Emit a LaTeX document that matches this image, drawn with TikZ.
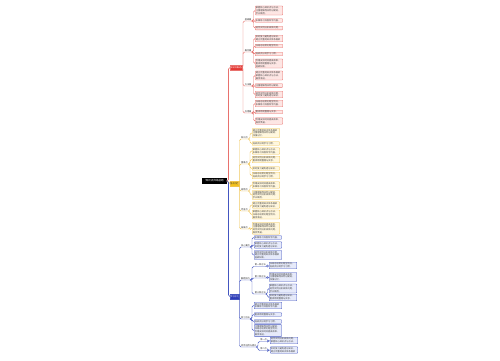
\documentclass[tikz,border=0pt]{standalone}
\usepackage{fontspec}
\newfontfamily\cjk{Noto Sans CJK SC}
\definecolor{rline}{HTML}{E8726E}
\definecolor{rfill}{HTML}{FDE6E4}
\definecolor{rmain}{HTML}{E53935}
\definecolor{yline}{HTML}{F0C24B}
\definecolor{yfill}{HTML}{FFF7DE}
\definecolor{ymain}{HTML}{F5C31C}
\definecolor{bline}{HTML}{4456C0}
\definecolor{bfill}{HTML}{E6EAFA}
\definecolor{bmain}{HTML}{2E3DB8}
\newcommand\zA{掌握核心知识点与方法，}
\newcommand\zB{注重理解而非死记硬背，}
\newcommand\zC{多做练习巩固所学内容。}
\newcommand\zD{结合实例分析具体问题，}
\newcommand\zE{及时复习避免遗忘知识。}
\newcommand\zF{建立完整的知识体系框架}
\newcommand\zG{归纳总结常见题型特点，}
\newcommand\zH{培养良好的学习习惯。}
\newcommand\zI{合理安排时间提高效率，}
\newcommand\zJ{重视错题整理与反思。}
\newcommand\mmlink[4]{\draw[conn=#1] (#2) -| (#3 |- #4.west) -- (#4.west);}
\newcommand\mmlab[4]{\draw[conn=#1] (#2) -| (#3 |- #4.south west) -- (#4.south east);}
\tikzset{
  leaf/.style={draw=#1line, fill=#1fill, line width=0.3pt, rounded corners=0.6pt,
    text width=26pt, align=left, inner sep=0.8pt,
    font=\cjk\fontsize{2.2}{2.7}\selectfont, text=black!75, anchor=west},
  lbl/.style={inner sep=0.6pt, font=\cjk\fontsize{2.2}{2.6}\selectfont, text=black!80, anchor=south west},
  conn/.style={draw=#1line, line width=0.45pt, rounded corners=1.5pt},
  mainbox/.style={fill=#1main, draw=#1line, line width=0.3pt, inner sep=0.5pt, minimum height=5pt,
    font=\cjk\fontsize{2.1}{2.5}\selectfont, anchor=west},
}
\begin{document}
\begin{tikzpicture}[x=1pt,y=-1pt]
\fill[white] (0,0) rectangle (500,360);
\useasboundingbox (0,0) rectangle (500,360);
% root and main branches
\node[fill=black, text=white, font=\cjk\fontsize{2.6}{3}\selectfont, inner sep=0.8pt,
  minimum width=25pt, minimum height=6pt, anchor=west] (root) at (202,181) {知识点归纳总结};
\node[mainbox=r, text=white] (R) at (230,67.5) {知识点概述};
\node[mainbox=y, text=black!80] (Y) at (229.5,183.5) {重点内容};
\node[mainbox=b, text=white] (B) at (229.5,296.5) {学习方法};
\coordinate (tr) at (228.5,0);
\draw[conn=r, line width=0.6pt] (root.east) -| (tr |- R.west) -- (R.west);
\draw[conn=y, line width=0.6pt] (root.east) -| (tr |- Y.west) -- (Y.west);
\draw[conn=b, line width=0.6pt] (root.east) -| (tr |- B.west) -- (B.west);
% ===== red branch =====
\coordinate (rv) at (243,0);
\coordinate (rl) at (253.5,0);
\node[lbl] (R1) at (244,21) {基础篇};
\node[lbl] (R2) at (244,52) {概念篇};
\node[lbl] (R3) at (244,86) {方法篇};
\node[lbl] (R4) at (244,113) {应用篇};
\foreach \l in {R1,R2,R3,R4} {\mmlab{r}{R.east}{rv}{\l}}
\node[leaf=r] (R1a) at (255,10.5) {\zA\\\zB\\学以致用。};
\node[leaf=r] (R1b) at (255,20.5) {\zC};
\node[leaf=r] (R1c) at (255,28) {\zD};
\node[leaf=r] (R2a) at (255,38.5) {\zE\\\zF};
\node[leaf=r] (R2b) at (255,46) {\zG};
\node[leaf=r] (R2c) at (255,54) {\zH};
\node[leaf=r] (R2d) at (255,63.5) {\zI\\\zJ\\温故知新。};
\node[leaf=r] (R3a) at (255,75.5) {\zF\\\zA\\循序渐进。};
\node[leaf=r] (R3b) at (255,85.5) {\zB};
\node[leaf=r] (R3c) at (255,94.5) {\zD\\\zE};
\node[leaf=r] (R4a) at (255,103.5) {\zG\\\zC};
\node[leaf=r] (R4b) at (255,112) {\zJ};
\node[leaf=r] (R4c) at (255,121) {\zI\\融会贯通。};
\foreach \l in {R1a,R1b,R1c} {\mmlink{r}{R1.south east}{rl}{\l}}
\foreach \l in {R2a,R2b,R2c,R2d} {\mmlink{r}{R2.south east}{rl}{\l}}
\foreach \l in {R3a,R3b,R3c} {\mmlink{r}{R3.south east}{rl}{\l}}
\foreach \l in {R4a,R4b,R4c} {\mmlink{r}{R4.south east}{rl}{\l}}
% ===== yellow branch =====
\coordinate (yv) at (239.5,0);
\coordinate (yl) at (250,0);
\node[lbl] (Y1) at (240.3,139) {知识点};
\node[lbl] (Y2) at (240.3,164) {重难点};
\node[lbl] (Y3) at (240.3,191) {易错点};
\node[lbl] (Y4) at (240.3,211) {考查点};
\node[lbl] (Y5) at (240.3,229) {拓展点};
\foreach \l in {Y1,Y2,Y3,Y4,Y5} {\mmlab{y}{Y.east}{yv}{\l}}
\node[leaf=y] (Y1a) at (252,133) {\zF\\\zB\\加强记忆。};
\node[leaf=y] (Y1b) at (252,143.5) {\zH};
\node[leaf=y] (Y2a) at (252,151) {\zA\\\zC};
\node[leaf=y] (Y2b) at (252,159.5) {\zD\\\zJ};
\node[leaf=y] (Y2c) at (252,168.5) {\zE};
\node[leaf=y] (Y2d) at (252,175.5) {\zG\\\zH};
\node[leaf=y] (Y3a) at (252,185) {\zI\\\zC};
\node[leaf=y] (Y3b) at (252,195) {\zB\\\zD\\学以致用。};
\node[leaf=y] (Y4a) at (252,205) {\zF\\\zE};
\node[leaf=y] (Y4b) at (252,214.5) {\zA\\\zG\\循序渐进。};
\node[leaf=y] (Y5a) at (252,228.3) {\zI\\\zB\\\zD\\融会贯通。};
\foreach \l in {Y1a,Y1b} {\mmlink{y}{Y1.south east}{yl}{\l}}
\foreach \l in {Y2a,Y2b,Y2c,Y2d} {\mmlink{y}{Y2.south east}{yl}{\l}}
\foreach \l in {Y3a,Y3b} {\mmlink{y}{Y3.south east}{yl}{\l}}
\foreach \l in {Y4a,Y4b} {\mmlink{y}{Y4.south east}{yl}{\l}}
\mmlink{y}{Y5.south east}{yl}{Y5a}
% ===== blue branch =====
\coordinate (bv) at (239.5,0);
\coordinate (bl) at (252,0);
\coordinate (sv) at (267.5,0);
\coordinate (tv) at (258,0);
\node[lbl] (B1) at (240.3,247) {核心要点};
\node[lbl] (B2) at (240.3,280) {解题技巧};
\node[lbl] (B3) at (240.3,319) {复习方法};
\node[lbl] (B4) at (240.3,347) {综合运用与提升};
\foreach \l in {B1,B2,B3,B4} {\mmlab{b}{B.east}{bv}{\l}}
\node[leaf=b] (B1a) at (254,237.5) {\zC};
\node[leaf=b] (B1b) at (254,245) {\zA\\\zE};
\node[leaf=b] (B1c) at (254,255) {\zD\\\zF\\温故知新。};
\foreach \l in {B1a,B1b,B1c} {\mmlink{b}{B1.south east}{bl}{\l}}
\node[lbl] (S1) at (254,266.5) {第一种方法};
\node[lbl] (S2) at (254,278) {第二种方法};
\node[lbl] (S3) at (254,294) {第三种方法};
\foreach \l in {S1,S2,S3} {\mmlab{b}{B2.south east}{bl}{\l}}
\node[leaf=b] (S1a) at (269,265.5) {\zG\\\zH};
\node[leaf=b] (S2a) at (269,277) {\zI\\\zB\\加强记忆。};
\node[leaf=b] (S3a) at (269,288.5) {\zA\\\zD\\学以致用。};
\node[leaf=b] (S3b) at (269,297.5) {\zE\\\zJ};
\mmlink{b}{S1.south east}{sv}{S1a}
\mmlink{b}{S2.south east}{sv}{S2a}
\foreach \l in {S3a,S3b} {\mmlink{b}{S3.south east}{sv}{\l}}
\node[leaf=b] (B3a) at (254,305.5) {\zF\\\zC};
\node[leaf=b] (B3b) at (254,314.5) {\zJ};
\node[leaf=b] (B3c) at (254,321.5) {\zH};
\node[leaf=b] (B3d) at (254,330.5) {\zB\\\zG\\\zI\\循序渐进。};
\foreach \l in {B3a,B3b,B3c,B3d} {\mmlink{b}{B3.south east}{bl}{\l}}
\node[lbl] (T1) at (259.5,341.5) {第一点};
\node[lbl] (T2) at (259.5,350.5) {第二点};
\foreach \l in {T1,T2} {\mmlab{b}{B4.south east}{tv}{\l}}
\node[leaf=b] (T1a) at (270,340.5) {\zD\\\zA};
\node[leaf=b] (T2a) at (270,350) {\zE\\\zF};
\mmlink{b}{T1.south east}{sv}{T1a}
\mmlink{b}{T2.south east}{sv}{T2a}
\end{tikzpicture}
\end{document}
